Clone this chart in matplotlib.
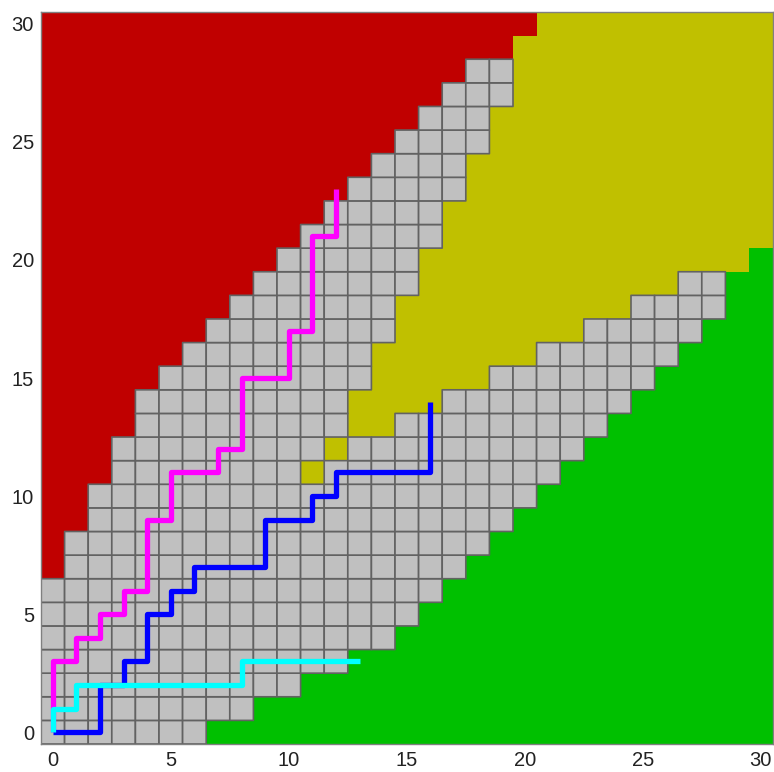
import numpy as np
import matplotlib.pyplot as plt
from matplotlib.colors import ListedColormap

plt.rcParams['font.family'] = ['Liberation Sans', 'DejaVu Sans']

n = 31  # grid is 31 x 31, cells 0..30

# per row (y = 0..30): how many red cells from the left
red_count = [0, 0, 0, 0, 0, 0, 0, 1, 1, 2, 2, 3, 3, 4, 4, 5, 6, 7, 8, 9,
             10, 11, 12, 13, 14, 15, 16, 17, 18, 20, 21]
# per row: first green column (31 = none)
green_start = [7, 9, 11, 13, 15, 16, 17, 18, 19, 20, 21, 22, 23, 24, 25, 26,
               27, 28, 29, 29, 30, 31, 31, 31, 31, 31, 31, 31, 31, 31, 31]
# per row: olive cells [start, end)
olive_start = [0] * 11 + [11, 12, 13, 13, 14, 14, 15, 15, 16, 16,
                          17, 17, 18, 18, 19, 19, 20, 20, 20, 21]
olive_end = [0] * 11 + [12, 13, 15, 17, 19, 21, 23, 25, 27, 30,
                        31, 31, 31, 31, 31, 31, 31, 31, 31, 31]

# paths
magenta_x = [0, 0, 1, 1, 2, 2, 3, 3, 4, 4, 5, 5, 7, 7, 8, 8, 10, 10, 11, 11, 12, 12]
magenta_y = [0, 3, 3, 4, 4, 5, 5, 6, 6, 9, 9, 11, 11, 12, 12, 15, 15, 17, 17, 21, 21, 23]
blue_x = [0, 2, 2, 3, 3, 4, 4, 5, 5, 6, 6, 9, 9, 11, 11, 12, 12, 16, 16]
blue_y = [0, 0, 2, 2, 3, 3, 5, 5, 6, 6, 7, 7, 9, 9, 10, 10, 11, 11, 14]
cyan_x = [0, 0, 1, 1, 8, 8, 13]
cyan_y = [0, 1, 1, 2, 2, 3, 3]

# 0 gray, 1 red, 2 olive, 3 green
grid = np.zeros((n, n), dtype=int)
for r in range(n):
    grid[r, :red_count[r]] = 1
    grid[r, olive_start[r]:olive_end[r]] = 2
    grid[r, green_start[r]:] = 3

cmap = ListedColormap(['#c0c0c0', '#c00000', '#c0c000', '#00c000'])
edges = np.arange(n + 1) - 0.5

fig = plt.figure(figsize=(7.74, 7.72), dpi=100)
ax = fig.add_axes([41 / 774, 28 / 772, 731.6 / 774, 732 / 772])

ax.pcolormesh(edges, edges, grid, cmap=cmap, vmin=-0.5, vmax=3.5)
gray_cells = np.ma.masked_where(grid != 0, grid)
ax.pcolor(edges, edges, gray_cells, cmap=cmap, vmin=-0.5, vmax=3.5,
          edgecolors='#626262', linewidth=1.2)

lw = 3.8
ax.plot(magenta_x, magenta_y, color='#ff00ff', lw=lw, solid_capstyle='butt')
ax.plot(blue_x, blue_y, color='#0000ff', lw=lw, solid_capstyle='butt')
ax.plot(cyan_x, cyan_y, color='#00ffff', lw=lw, solid_capstyle='butt')

ax.set_xlim(-0.5, 30.5)
ax.set_ylim(-0.5, 30.5)
ax.set_xticks(range(0, 31, 5))
ax.set_yticks(range(0, 31, 5))
ax.tick_params(axis='x', length=0, pad=5, labelsize=14.5, labelcolor='#222222')
ax.tick_params(axis='y', length=0, pad=5, labelsize=14.5, labelcolor='#222222')
for s in ax.spines.values():
    s.set_color('#808080')
    s.set_linewidth(1.0)

fig.savefig('out.png', dpi=100)
